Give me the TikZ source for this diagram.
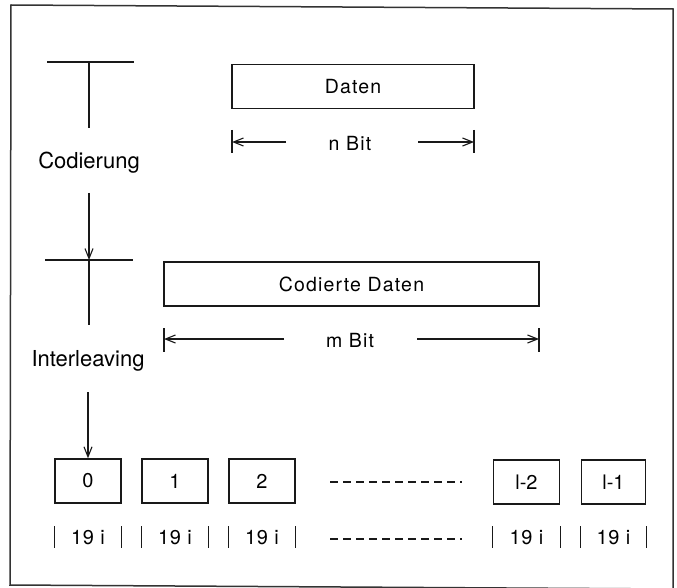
\documentclass[tikz,border=0pt]{standalone}
\usepackage{fontspec}
\setmainfont{TeX Gyre Heros}
\usetikzlibrary{arrows.meta}
\begin{document}
\begin{tikzpicture}[x=1pt,y=-1pt,
  ln/.style={line width=1.1pt, draw=black!90},
  box/.style={draw=black!90, line width=1.5pt, minimum height=44pt, inner sep=0pt},
  inlbl/.style={font=\fontsize{19.5}{21}\selectfont\addfontfeature{LetterSpace=6}},
  blk/.style={box, minimum width=66pt, font=\fontsize{20}{22}\selectfont},
  sidelbl/.style={font=\fontsize{22}{24}\selectfont, inner sep=0pt, anchor=base},
  cntlbl/.style={font=\fontsize{20}{22}\selectfont\addfontfeature{LetterSpace=4}, inner sep=0pt},
  dimlbl/.style={inlbl, inner sep=0pt},
  barb/.style={ln, -{Straight Barb[length=10pt,width=8pt,line width=1.1pt]}},
  dots/.style={ln, dash pattern=on 8pt off 5pt},
]
\useasboundingbox (0,0) rectangle (677,588);

% outer frame (slightly skewed sheet)
\draw[line width=1.5pt, draw=black!80] (11,5) -- (673,9) -- (673,589) -- (10,585) -- cycle;

% --- left column: stages ---
\coordinate (t1) at (89,62);
\coordinate (t1l) at (47,62);
\coordinate (t1r) at (134,62);
\coordinate (t1d) at (89,128);
\draw[ln] (t1l) -- (t1r);
\draw[ln] (t1) -- (t1d);
\node[sidelbl] (codierung) at (89,169) {Codierung};
\coordinate (a1s) at (89,193);
\coordinate (t2) at (89,260);
\coordinate (t2l) at (45,260);
\coordinate (t2r) at (133,260);
\coordinate (t2d) at (89,325);
\draw[barb] (a1s) -- (t2);
\draw[ln] (t2l) -- (t2r);
\draw[ln] (t2) -- (t2d);
\node[sidelbl] (interleaving) at (88,366) {Interleaving};
\coordinate (a2s) at (88,392);

% --- data blocks ---
\node[box, inlbl, minimum width=242pt] (daten) at (353,86.5) {Daten};
\node[box, inlbl, minimum width=375pt] (cod) at (351.5,284) {Codierte Daten};

% n Bit dimension
\node[dimlbl] (nbit) at (350,143) {n Bit};
\coordinate (nLb) at (232,130); \coordinate (nLe) at (232,153);
\coordinate (nRb) at (474,130); \coordinate (nRe) at (474,153);
\coordinate (nL) at (232,142); \coordinate (nLs) at (286,142);
\coordinate (nR) at (474,142); \coordinate (nRs) at (418,142);
\draw[ln] (nLb) -- (nLe);
\draw[ln] (nRb) -- (nRe);
\draw[barb] (nLs) -- (nL);
\draw[barb] (nRs) -- (nR);

% m Bit dimension
\node[dimlbl] (mbit) at (350,340) {m Bit};
\coordinate (mLb) at (164,328); \coordinate (mLe) at (164,352);
\coordinate (mRb) at (539,328); \coordinate (mRe) at (539,352);
\coordinate (mL) at (164,339); \coordinate (mLs) at (284,339);
\coordinate (mR) at (539,339); \coordinate (mRs) at (417,339);
\draw[ln] (mLb) -- (mLe);
\draw[ln] (mRb) -- (mRe);
\draw[barb] (mLs) -- (mL);
\draw[barb] (mRs) -- (mR);

% --- interleaved blocks ---
\node[blk] (b0) at (88,481) {0};
\node[blk] (b1) at (175,481) {1};
\node[blk] (b2) at (262,481) {2};
\node[blk] (b3) at (526.5,482) {l-2};
\node[blk, minimum width=64pt] (b4) at (613.5,482) {l-1};

\draw[barb] (a2s) -- (b0.north);

\foreach \b in {b0,b1,b2,b3,b4}{
  \node[cntlbl] (\b lab) at (\b |- 0,538) {19 i};
  \draw[ln, line width=1.4pt] (\b.west |- 0,526) -- (\b.west |- 0,548);
  \draw[ln, line width=1.4pt] (\b.east |- 0,526) -- (\b.east |- 0,548);
}

% ellipsis between the blocks
\coordinate (d1a) at (330,482); \coordinate (d1b) at (462,482);
\coordinate (d2a) at (330,539); \coordinate (d2b) at (462,539);
\draw[dots] (d1a) -- (d1b);
\draw[dots] (d2a) -- (d2b);
\end{tikzpicture}
\end{document}
